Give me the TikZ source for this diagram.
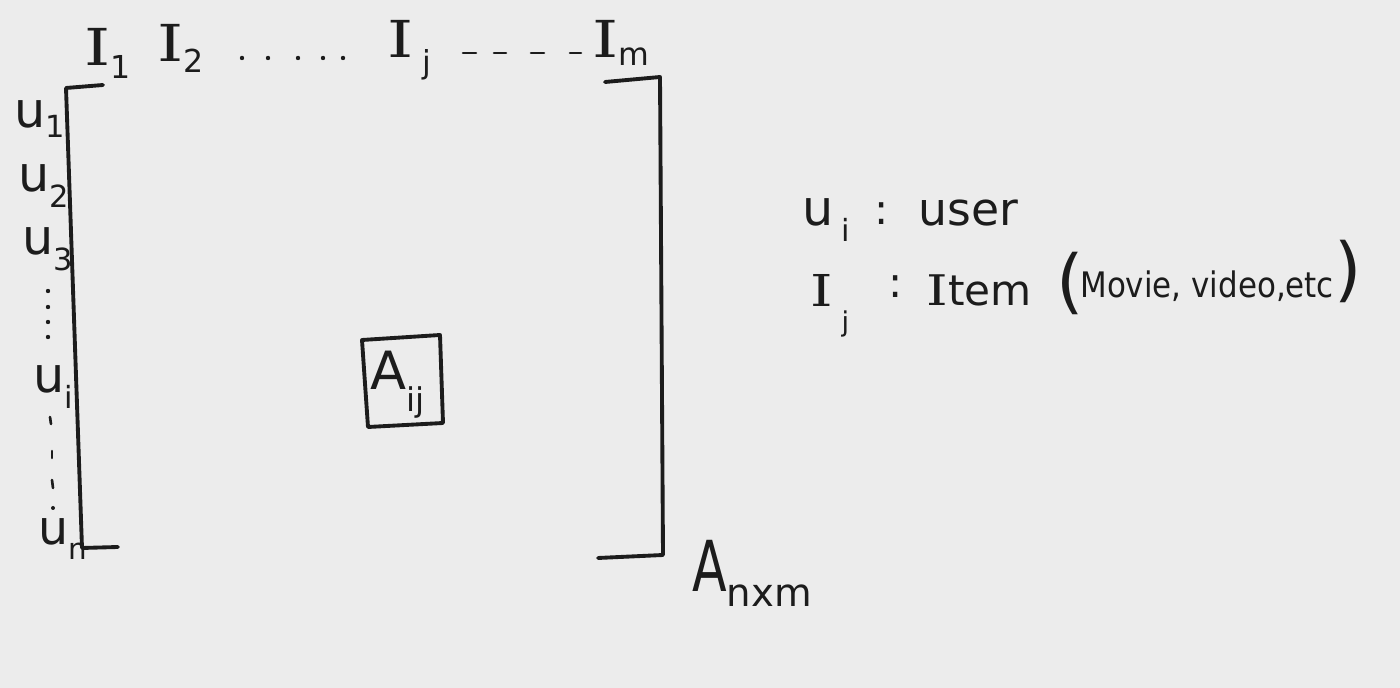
\documentclass[tikz,border=0pt]{standalone}
\usepackage{fontspec}
\newfontfamily\hand{DejaVu Sans}
\newfontfamily\handser{DejaVu Serif}
\definecolor{ink}{RGB}{28,28,28}
\definecolor{paper}{RGB}{236,236,236}
\newcommand\dn[2][0.32em]{\raisebox{-#1}{\scalebox{0.62}{#2}}}
\newcommand\fs[1]{\fontsize{#1}{#1}\selectfont}
\newcommand\SI{{\handser\scalebox{1.3}[1]{I}}}
\tikzset{
  lab/.style={inner sep=0pt, anchor=base west, text=ink, font=\hand},
  pen/.style={draw=ink, line width=2.2pt, line cap=round, line join=round},
  thinpen/.style={pen, line width=1.5pt},
  dotmark/.style={fill=ink, draw=none}
}
\begin{document}
\begin{tikzpicture}[x=0.02cm,y=-0.02cm]
\path[use as bounding box, fill=paper] (0,0) rectangle (1400,688);
% ---- column labels
\node[lab] (I1) at (84,66) {\fs{29}\SI\dn[0.25em]{1}};
\node[lab] (I2) at (157,62) {\fs{29}\SI\dn[0.2em]{2}};
\foreach \x in {242,268,298,323,343} \fill[dotmark] (\x,58) circle (2.2);
\node[lab] (Ij) at (387,58) {\fs{29}\SI\,\dn[0.3em]{j}};
\foreach \a/\b in {463/476,494/506,531/544,570/581} \draw[thinpen] (\a,53) -- (\b,53);
\node[lab] (Im) at (592,58) {\fs{29}\SI\dn[0.15em]{m}};
% ---- row labels
\node[lab] (u1) at (14,128) {\fs{28}u\dn[0.2em]{1}};
\node[lab] (u2) at (18,192) {\fs{28}u\dn{2}};
\node[lab] (u3) at (22,255) {\fs{28}u\dn{3}};
\foreach \y in {291,307,322,337} \fill[dotmark] (48,\y) circle (2.2);
\node[lab] (ui) at (33,393) {\fs{28}u\dn{i}};
\draw[thinpen] (50,417) -- (51,424);
\draw[thinpen] (52,451) -- (52,458);
\draw[thinpen] (52,480) -- (53,488);
\fill[dotmark] (53,508) circle (2);
\node[lab] (un) at (38,545) {\fs{27}u\dn[0.3em]{n}};
% ---- brackets
\draw[pen] (103,85) -- (66,88) -- (82,548) -- (118,547);
\draw[pen] (605,82) -- (660,77) -- (663,555) -- (598,558);
% ---- element box
\draw[pen] (362,340) -- (440,335) -- (443,423) -- (368,427) -- cycle;
\node[lab] (Aij) at (370,390) {\fs{30}A\dn[0.4em]{ij}};
% ---- matrix name
\node[lab] (Anm) at (692,592) {\fs{40}\scalebox{0.72}[1]{A}\raisebox{-0.2em}{\scalebox{0.55}{nxm}}};
% ---- legend
\node[lab] (lu) at (802,226) {\fs{28}u\,\dn{i}};
\node[lab] (lc1) at (874,225) {\fs{24}:};
\node[lab] (luser) at (918,226) {\fs{26}user};
\node[lab] (lI) at (810,307) {\fs{25}\SI\hspace{5pt}\dn[0.55em]{j}};
\node[lab] (lc2) at (888,298) {\fs{24}:};
\node[lab] (litem) at (926,306) {\fs{24}\SI tem};
\node[lab] (lpo) at (1056,306) {\fs{40}(};
\node[lab] (lex) at (1080,298) {\fs{20}\scalebox{0.88}[1]{Movie, video,etc}};
\node[lab] (lpc) at (1334,294) {\fs{40})};
\end{tikzpicture}
\end{document}
